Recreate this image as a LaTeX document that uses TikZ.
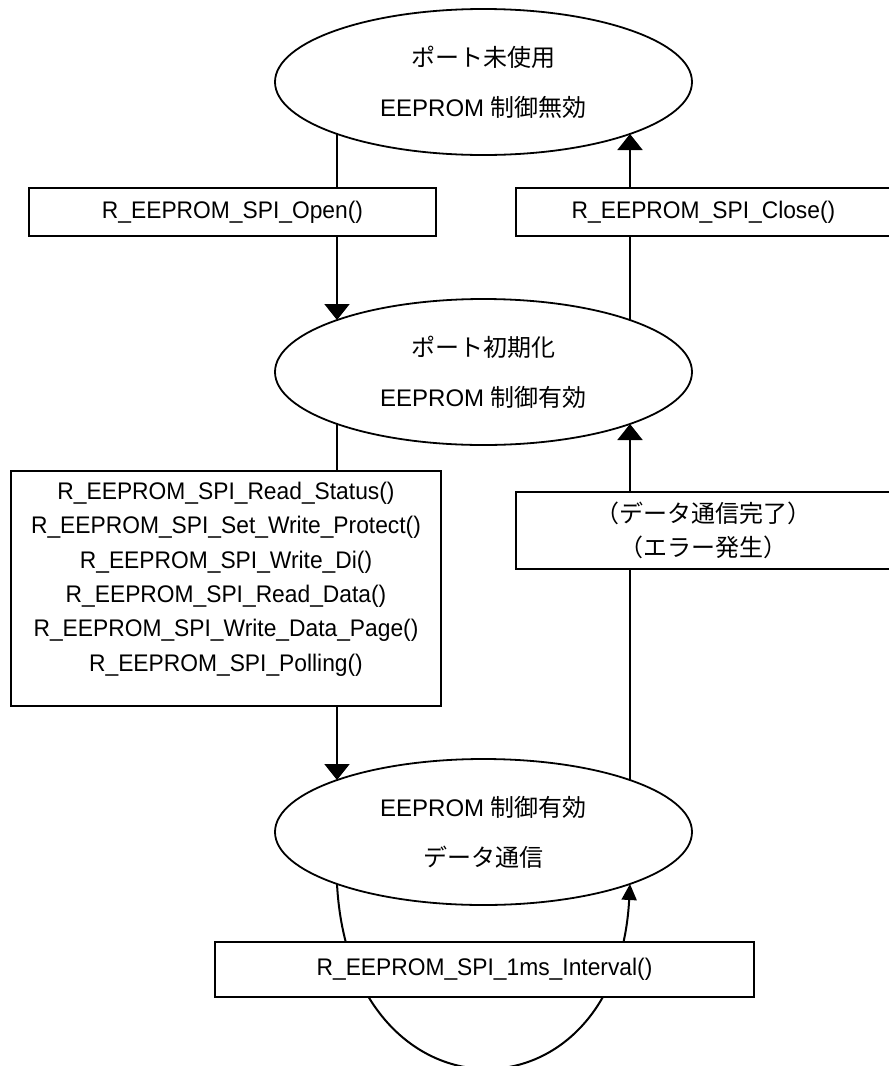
\documentclass[tikz,border=0pt]{standalone}
\usepackage{fontspec}
\setmainfont{Liberation Sans}
\newfontfamily\jpfont{Noto Sans CJK JP}
\newfontfamily\latc[FakeStretch=0.95]{Liberation Sans}
\usetikzlibrary{arrows.meta,shapes.geometric}
\newcommand{\jtxt}[1]{{\jpfont #1}}
\begin{document}
\begin{tikzpicture}[x=1pt,y=-1pt,
  state/.style={ellipse, draw, line width=1.8pt, fill=white, minimum width=417pt, minimum height=146pt,
    inner sep=0pt, align=center, font=\fontsize{24}{50}\selectfont},
  callbox/.style={rectangle, draw, line width=2pt, fill=white, inner sep=0pt, align=center,
    font=\latc\fontsize{24}{34.4}\selectfont},
  calltext/.style={inner sep=0pt, align=center, font=\latc\fontsize{24}{34.4}\selectfont},
  conn/.style={line width=2pt, -{Triangle[length=16pt,width=25pt]}},
  loopconn/.style={line width=2pt, -{Triangle[length=16pt,width=15pt]}}
]
\useasboundingbox (0,0) rectangle (889,1066);

% states
\node[state] (e1) at (483.5,82) {\jtxt{ポート未使用}\\EEPROM \jtxt{制御無効}};
\node[state] (e2) at (483.5,372) {\jtxt{ポート初期化}\\EEPROM \jtxt{制御有効}};
\node[state] (e3) at (483.5,832) {EEPROM \jtxt{制御有効}\\\jtxt{データ通信}};

% connectors (end points on the ellipse borders at x = 337 and x = 630)
\draw[conn] ([shift={(-146.5,52)}]e1.center) -- ([shift={(-146.5,-52)}]e2.center);
\draw[conn] ([shift={(146.5,-52)}]e2.center) -- ([shift={(146.5,52)}]e1.center);
\draw[conn] ([shift={(-146.5,52)}]e2.center) -- ([shift={(-146.5,-52)}]e3.center);
\draw[conn] ([shift={(146.5,-52)}]e3.center) -- ([shift={(146.5,52)}]e2.center);
\draw[loopconn] ([shift={(-146.5,52)}]e3.center) .. controls +(13,244) and +(-13,244) .. ([shift={(146.5,52)}]e3.center);

% transition labels
\node[callbox, minimum width=407pt, minimum height=48pt] (open) at (232.5,212) {R\_EEPROM\_SPI\_Open()};
\node[callbox, minimum width=375pt, minimum height=48pt] (close) at (703.5,212) {R\_EEPROM\_SPI\_Close()};
\node[callbox, minimum width=430pt, minimum height=235pt] (calls) at (226,588.5) {};
\node[calltext] (callstxt) at (226,579) {R\_EEPROM\_SPI\_Read\_Status()\\
R\_EEPROM\_SPI\_Set\_Write\_Protect()\\
R\_EEPROM\_SPI\_Write\_Di()\\
R\_EEPROM\_SPI\_Read\_Data()\\
R\_EEPROM\_SPI\_Write\_Data\_Page()\\
R\_EEPROM\_SPI\_Polling()};
\node[callbox, minimum width=375pt, minimum height=77pt] (err) at (703.5,530.5) {\jtxt{（データ通信完了）}\\\jtxt{（エラー発生）}};
\node[callbox, minimum width=539pt, minimum height=55pt] (intv) at (484.5,969.5) {R\_EEPROM\_SPI\_1ms\_Interval()};
\end{tikzpicture}
\end{document}
